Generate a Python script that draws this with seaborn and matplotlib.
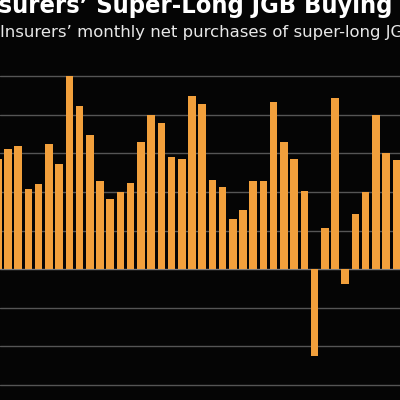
import pandas as pd
import matplotlib.pyplot as plt
import seaborn as sns
import numpy as np

# monthly net purchases (1 grid step = 100)
months = [str(i) for i in range(40)]
net_purchases = [286, 311, 319, 209, 222, 325, 273, 500, 422, 348,
                 228, 181, 201, 224, 331, 399, 378, 291, 285, 449,
                 427, 231, 212, 131, 154, 229, 229, 433, 331, 286,
                 203, -224, 108, 444, -39, 144, 199, 400, 301, 283]
grid_levels = [-300, -200, -100, 0, 100, 200, 300, 400, 500]

title = "Insurers\u2019 Super-Long JGB Buying Slows"
subtitle = "Insurers\u2019 monthly net purchases of super-long JGBs"

bg = '#050505'
bar_color = '#F2A03C'
grid_color = '#555555'

sns.set_style('dark')
plt.rcParams['font.family'] = ['DejaVu Sans']

df = pd.DataFrame({'month': months, 'net': net_purchases})

fig = plt.figure(figsize=(4, 4), dpi=100, facecolor=bg)
ax = fig.add_axes([0, 0, 1, 0.85])
ax.set_facecolor(bg)

sns.barplot(data=df, x='month', y='net', color=bar_color, saturation=1,
            width=0.74, edgecolor='none', linewidth=0, ax=ax, zorder=3)

for lvl in grid_levels:
    ax.axhline(lvl, color='#7a7a7a' if lvl == 0 else grid_color, lw=1, zorder=1)

ax.set_xlim(0.217, 39.36)
ax.set_ylim(-338.6, 542.2)
ax.set_xticks([])
ax.set_yticks([])
ax.set_xlabel('')
ax.set_ylabel('')
for s in ax.spines.values():
    s.set_visible(False)

fig.text(-0.066, 1 - 13.3 / 400, title, color='white', fontsize=18.2,
         fontweight='bold', fontstretch='condensed', va='baseline', ha='left')
fig.text(0.0, 1 - 37.3 / 400, subtitle, color='#e8e8e8', fontsize=11.85,
         va='baseline', ha='left')

plt.savefig('out.png', dpi=100, facecolor=bg)
